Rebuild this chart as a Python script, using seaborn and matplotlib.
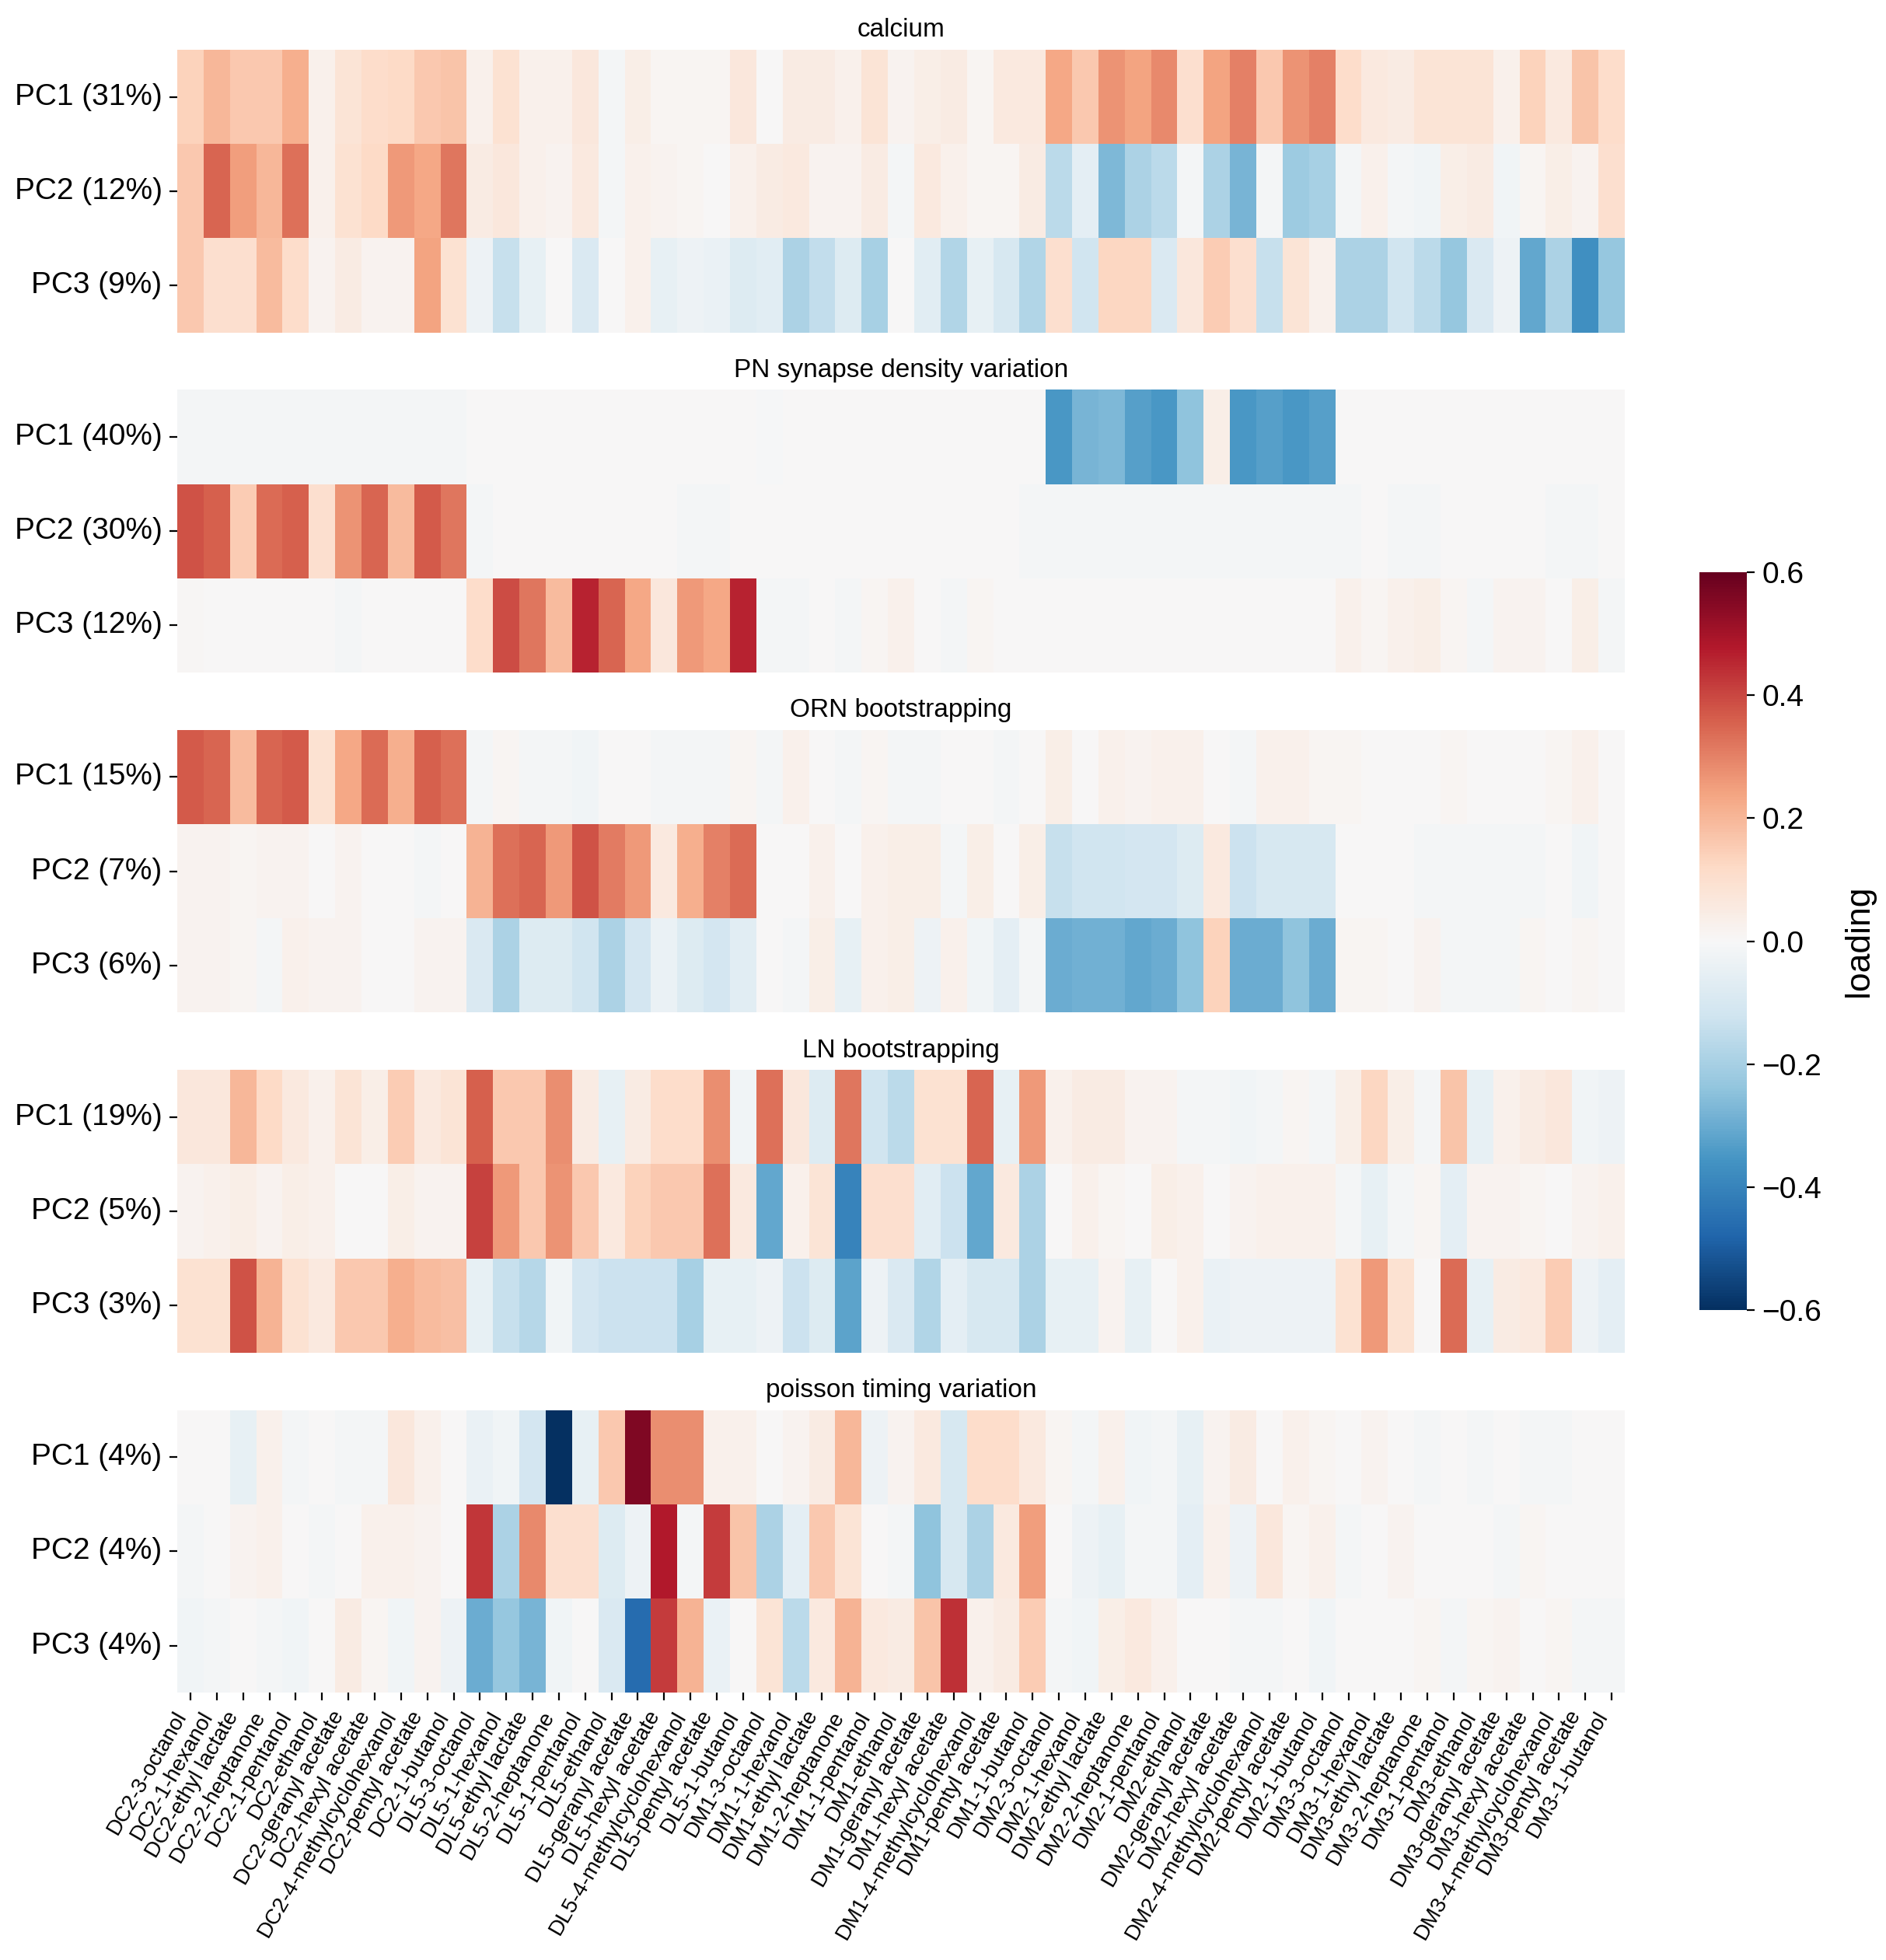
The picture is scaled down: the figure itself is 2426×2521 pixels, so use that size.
import pandas as pd
import matplotlib
matplotlib.use("Agg")
import matplotlib.pyplot as plt
import seaborn as sns

glomeruli = ["DC2", "DL5", "DM1", "DM2", "DM3"]
odors = ["3-octanol", "1-hexanol", "ethyl lactate", "2-heptanone", "1-pentanol",
         "ethanol", "geranyl acetate", "hexyl acetate", "4-methylcyclohexanol",
         "pentyl acetate", "1-butanol"]
odor_labels = [f"{g}-{o}" for g in glomeruli for o in odors]
pc_names = ["PC1", "PC2", "PC3"]

# loadings, one list per PC, 55 odor/glomerulus columns each
calcium_var = [31, 12, 9]
calcium = [
    [0.14, 0.20, 0.16, 0.16, 0.22, 0.03, 0.08, 0.11, 0.12, 0.16, 0.17,
     0.03, 0.09, 0.03, 0.03, 0.07, -0.01, 0.04, 0.01, 0.01, 0.01, 0.07,
     0.00, 0.05, 0.05, 0.03, 0.08, 0.02, 0.04, 0.05, 0.01, 0.06, 0.06,
     0.23, 0.16, 0.27, 0.24, 0.29, 0.10, 0.24, 0.30, 0.16, 0.27, 0.30,
     0.11, 0.06, 0.05, 0.08, 0.08, 0.08, 0.03, 0.14, 0.06, 0.17, 0.11],
    [0.16, 0.35, 0.25, 0.20, 0.33, 0.03, 0.09, 0.12, 0.26, 0.23, 0.32,
     0.05, 0.07, 0.03, 0.02, 0.06, -0.01, 0.03, 0.02, 0.01, 0.00, 0.03,
     0.05, 0.06, 0.02, 0.02, 0.05, -0.01, 0.06, 0.03, 0.01, 0.01, 0.05,
     -0.16, -0.06, -0.27, -0.19, -0.16, -0.01, -0.19, -0.28, -0.01, -0.22, -0.20,
     -0.01, 0.03, -0.01, -0.02, 0.04, 0.05, -0.02, 0.01, 0.04, 0.02, 0.10],
    [0.16, 0.10, 0.10, 0.19, 0.11, 0.02, 0.05, 0.02, 0.02, 0.24, 0.09,
     -0.03, -0.14, -0.05, 0.00, -0.09, 0.00, 0.03, -0.05, -0.03, -0.04, -0.08,
     -0.07, -0.19, -0.15, -0.08, -0.20, 0.00, -0.07, -0.18, -0.05, -0.10, -0.18,
     0.10, -0.12, 0.13, 0.13, -0.09, 0.07, 0.15, 0.10, -0.14, 0.08, 0.03,
     -0.19, -0.19, -0.12, -0.16, -0.23, -0.09, -0.03, -0.31, -0.19, -0.37, -0.23],
]

pn_var = [40, 30, 12]
pn = [
    [-0.01, -0.01, -0.01, -0.01, -0.01, -0.01, -0.01, -0.01, -0.01, -0.01, -0.01,
     0.00, 0.00, 0.00, 0.00, 0.00, 0.00, 0.00, 0.00, 0.00, 0.00, 0.00,
     -0.005, 0.00, 0.00, 0.00, 0.00, 0.00, 0.00, 0.00, 0.00, 0.00, 0.00,
     -0.35, -0.28, -0.27, -0.33, -0.35, -0.24, 0.04, -0.35, -0.33, -0.35, -0.33,
     0.00, 0.00, 0.00, 0.00, 0.00, 0.00, 0.00, 0.00, 0.00, 0.00, 0.00],
    [0.38, 0.36, 0.15, 0.34, 0.36, 0.10, 0.27, 0.35, 0.19, 0.37, 0.32,
     -0.01, 0.00, 0.00, 0.00, 0.00, 0.00, 0.00, 0.00, -0.01, -0.01, 0.00,
     0.00, 0.00, 0.00, 0.00, 0.00, 0.00, 0.00, 0.00, 0.00, 0.00, -0.01,
     -0.01, -0.01, -0.01, -0.01, -0.01, -0.01, -0.01, -0.01, -0.01, -0.01, -0.01,
     -0.01, 0.00, -0.01, -0.01, 0.00, 0.00, 0.00, 0.00, -0.01, -0.01, 0.00],
    [0.005, 0.00, 0.00, 0.00, 0.00, 0.00, -0.01, 0.00, 0.00, 0.00, 0.00,
     0.11, 0.39, 0.32, 0.19, 0.46, 0.35, 0.23, 0.07, 0.26, 0.23, 0.46,
     -0.01, -0.01, 0.00, -0.01, 0.01, 0.03, 0.00, -0.01, 0.01, 0.00, 0.00,
     0.00, 0.00, 0.00, 0.00, 0.00, 0.00, 0.00, 0.00, 0.00, 0.00, 0.00,
     0.03, 0.01, 0.03, 0.04, 0.01, -0.01, 0.02, 0.02, 0.00, 0.04, -0.01],
]

orn_var = [15, 7, 6]
orn = [
    [0.37, 0.35, 0.19, 0.35, 0.37, 0.09, 0.23, 0.34, 0.22, 0.36, 0.33,
     -0.01, 0.01, -0.01, -0.01, -0.02, 0.00, 0.00, -0.01, -0.01, -0.01, 0.01,
     -0.01, 0.03, 0.00, -0.01, 0.01, -0.01, -0.01, 0.00, 0.00, -0.01, 0.00,
     0.04, 0.00, 0.03, 0.02, 0.03, 0.03, 0.00, -0.01, 0.03, 0.03, 0.01,
     0.01, 0.00, 0.00, 0.00, 0.01, 0.00, 0.00, 0.00, 0.01, 0.03, 0.00],
    [0.02, 0.02, 0.01, 0.02, 0.02, 0.00, 0.02, 0.00, 0.00, -0.01, 0.00,
     0.21, 0.33, 0.35, 0.26, 0.38, 0.31, 0.26, 0.06, 0.22, 0.30, 0.34,
     0.00, 0.00, 0.03, 0.00, 0.03, 0.04, 0.04, -0.01, 0.04, 0.00, 0.04,
     -0.14, -0.12, -0.12, -0.11, -0.11, -0.08, 0.06, -0.13, -0.10, -0.10, -0.10,
     0.00, 0.00, 0.00, -0.01, -0.01, -0.01, -0.01, -0.01, 0.00, -0.02, 0.00],
    [0.02, 0.02, 0.01, -0.01, 0.03, 0.02, 0.02, 0.00, 0.00, 0.02, 0.02,
     -0.09, -0.19, -0.08, -0.08, -0.12, -0.19, -0.11, -0.04, -0.08, -0.11, -0.07,
     0.00, -0.01, 0.04, -0.05, 0.03, 0.04, -0.03, 0.03, -0.02, -0.06, -0.01,
     -0.30, -0.29, -0.29, -0.31, -0.30, -0.24, 0.14, -0.30, -0.30, -0.24, -0.30,
     0.01, 0.01, 0.00, 0.02, -0.01, -0.01, -0.01, 0.01, 0.00, 0.01, 0.00],
]

ln_var = [19, 5, 3]
ln = [
    [0.07, 0.07, 0.20, 0.12, 0.06, 0.03, 0.08, 0.04, 0.15, 0.06, 0.08,
     0.36, 0.16, 0.16, 0.28, 0.05, -0.05, 0.05, 0.11, 0.11, 0.28, -0.02,
     0.33, 0.07, -0.08, 0.32, -0.12, -0.16, 0.09, 0.09, 0.35, -0.05, 0.26,
     0.03, 0.05, 0.05, 0.02, 0.02, -0.01, -0.01, -0.02, -0.01, 0.01, -0.01,
     0.04, 0.13, 0.04, -0.01, 0.17, -0.05, 0.03, 0.05, 0.07, -0.02, -0.03],
    [0.02, 0.03, 0.04, 0.02, 0.04, 0.03, 0.00, 0.00, 0.04, 0.02, 0.02,
     0.41, 0.26, 0.16, 0.27, 0.16, 0.06, 0.14, 0.16, 0.16, 0.33, 0.06,
     -0.31, 0.03, 0.08, -0.40, 0.10, 0.10, -0.07, -0.13, -0.31, 0.06, -0.19,
     0.00, 0.03, 0.01, 0.00, 0.04, 0.03, 0.00, 0.02, 0.03, 0.03, 0.03,
     -0.01, -0.05, -0.01, 0.01, -0.06, 0.02, 0.02, 0.01, 0.00, 0.02, 0.03],
    [0.09, 0.09, 0.38, 0.21, 0.09, 0.06, 0.16, 0.16, 0.22, 0.19, 0.18,
     -0.05, -0.14, -0.17, -0.02, -0.11, -0.13, -0.13, -0.13, -0.20, -0.05, -0.05,
     -0.03, -0.13, -0.08, -0.32, -0.03, -0.09, -0.18, -0.06, -0.10, -0.10, -0.19,
     -0.05, -0.05, 0.02, -0.05, 0.00, 0.03, -0.04, -0.03, -0.03, -0.03, -0.03,
     0.09, 0.26, 0.09, 0.00, 0.34, -0.05, 0.05, 0.06, 0.15, -0.03, -0.06],
]

poisson_var = [4, 4, 4]
poisson = [
    [0.00, 0.00, -0.05, 0.03, -0.01, 0.00, -0.01, -0.01, 0.07, 0.03, 0.00,
     -0.04, -0.02, -0.11, -0.62, -0.05, 0.16, 0.56, 0.28, 0.28, 0.03, 0.03,
     0.00, 0.02, 0.05, 0.20, -0.03, 0.02, 0.06, -0.10, 0.11, 0.11, 0.06,
     0.01, -0.01, 0.03, -0.02, -0.01, -0.05, 0.02, 0.05, 0.00, 0.03, 0.01,
     0.00, 0.02, 0.00, -0.01, 0.00, -0.01, 0.00, -0.01, -0.01, 0.00, 0.00],
    [-0.01, 0.00, 0.02, 0.03, 0.00, -0.01, 0.00, 0.03, 0.03, 0.02, 0.00,
     0.43, -0.19, 0.29, 0.10, 0.10, -0.08, -0.03, 0.48, -0.01, 0.42, 0.17,
     -0.19, -0.06, 0.16, 0.08, 0.00, -0.01, -0.24, -0.10, -0.19, 0.06, 0.25,
     0.00, -0.03, -0.05, -0.01, -0.01, -0.06, 0.03, -0.03, 0.07, 0.01, 0.03,
     -0.01, 0.00, 0.02, 0.00, 0.00, 0.00, -0.01, 0.01, 0.00, 0.00, 0.00],
    [-0.02, -0.01, 0.00, -0.01, -0.02, 0.00, 0.05, 0.01, -0.02, 0.02, -0.03,
     -0.30, -0.23, -0.28, -0.02, 0.00, -0.09, -0.46, 0.42, 0.21, -0.04, 0.00,
     0.08, -0.16, 0.06, 0.21, 0.06, 0.05, 0.17, 0.44, 0.03, 0.05, 0.15,
     -0.01, -0.02, 0.04, 0.06, 0.03, 0.00, 0.00, -0.01, -0.01, 0.00, -0.02,
     0.00, 0.00, 0.00, 0.01, -0.01, 0.01, 0.02, 0.00, 0.01, -0.01, -0.01],
]

panels = [
    ("calcium", calcium_var, calcium),
    ("PN synapse density variation", pn_var, pn),
    ("ORN bootstrapping", orn_var, orn),
    ("LN bootstrapping", ln_var, ln),
    ("poisson timing variation", poisson_var, poisson),
]

plt.rcParams["font.family"] = ["Liberation Sans", "DejaVu Sans"]
fig, axes = plt.subplots(5, 1, figsize=(12.13, 12.605), dpi=200)
fig.subplots_adjust(left=0.094, right=0.8615, top=0.9746, bottom=0.1364, hspace=0.203)
cax = fig.add_axes([0.9012, 0.3316, 0.025, 0.3764])

for i, (title, var, loads) in enumerate(panels):
    ax = axes[i]
    last = i == len(panels) - 1
    df = pd.DataFrame(loads, index=[f"{pc} ({v}%)" for pc, v in zip(pc_names, var)],
                      columns=odor_labels)
    sns.heatmap(df, ax=ax, cmap="RdBu_r", vmin=-0.6, vmax=0.6,
                cbar=(i == 0), cbar_ax=cax if i == 0 else None,
                xticklabels=odor_labels if last else False, yticklabels=True)
    ax.set_title(title, fontsize=12)
    ax.tick_params(axis="y", labelsize=14, labelrotation=0)
    if last:
        ax.tick_params(axis="x", labelsize=10)
        plt.setp(ax.get_xticklabels(), rotation=60, ha="right")

cax.tick_params(labelsize=14)
cax.set_ylabel("loading", fontsize=16, labelpad=10)

fig.savefig("out.png", dpi=200)
